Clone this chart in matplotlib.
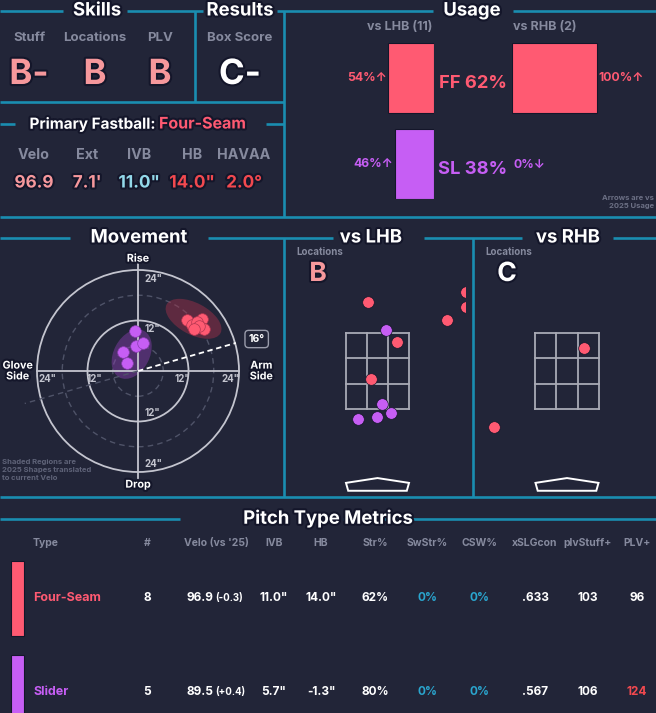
import numpy as np
import matplotlib.pyplot as plt
from matplotlib.patches import Circle, Ellipse, Rectangle, Polygon
import matplotlib.patheffects as pe

# ---------------------
# colori / stile
# ---------------------
W, H = 656, 713
BG = '#222538'
TEAL = '#1a8db0'
GRAY = '#868a9e'
RED = '#ff5a72'
PURP = '#c65ef4'
PINK = '#f6989c'
LBLUE = '#93d9ea'
HOT = '#f2494f'
CYAN = '#2aa6cf'
plt.rcParams['font.family'] = ['Inter', 'DejaVu Sans']

# ---------------------
# dati
# ---------------------
skill_labels = ['Stuff', 'Locations', 'PLV']
skill_grades = ['B-', 'B', 'B']
box_score = 'C-'

fb_name = 'Four-Seam'
fb_labels = ['Velo', 'Ext', 'IVB', 'HB', 'HAVAA']
fb_values = ['96.9', "7.1'", '11.0"', '14.0"', '2.0°']
fb_colors = [PINK, PINK, LBLUE, HOT, HOT]

pitch_codes = ['FF', 'SL']
usage_total = [62, 38]
usage_lhb = [54, 46]
usage_rhb = [100, 0]
arrow_lhb = ['↑', '↑']
arrow_rhb = ['↑', '↓']
n_lhb, n_rhb = 11, 2

# movimento (pollici)
ff_hb = [11.6, 12.9, 15.2, 15.1, 14.0, 15.6, 14.4, 13.2]
ff_ivb = [12.1, 11.0, 12.4, 10.3, 11.7, 10.0, 10.6, 9.9]
sl_hb = [-0.8, -0.5, 1.1, -3.6, -2.5]
sl_ivb = [9.5, 6.0, 6.6, 4.5, 2.0]
arm_angle = 16

# locations (piedi)
lhb_ff_x = [-0.22, 1.98, 1.98, 1.57, 0.43, -0.15]
lhb_ff_z = [4.01, 4.23, 3.88, 3.60, 3.09, 2.25]
lhb_sl_x = [0.18, 0.11, 0.30, -0.02, -0.43]
lhb_sl_z = [3.37, 1.66, 1.47, 1.38, 1.32]
rhb_ff_x = [0.39, -1.63]
rhb_ff_z = [2.94, 1.15]
loc_grade_lhb, loc_grade_rhb = 'B', 'C'

# tabella
col_names = ['#', "Velo (vs '25)", 'IVB', 'HB', 'Str%', 'SwStr%', 'CSW%', 'xSLGcon', 'plvStuff+', 'PLV+']
row_names = ['Four-Seam', 'Slider']
t_count = ['8', '5']
t_velo = ['96.9', '89.5']
t_velo_diff = ['(-0.3)', '(+0.4)']
t_ivb = ['11.0"', '5.7"']
t_hb = ['14.0"', '-1.3"']
t_str = ['62%', '80%']
t_swstr = ['0%', '0%']
t_csw = ['0%', '0%']
t_xslg = ['.633', '.567']
t_stuff = ['103', '106']
t_plv = ['96', '124']

colors = [RED, PURP]

# ---------------------
# figura
# ---------------------
fig = plt.figure(figsize=(W / 100, H / 100), dpi=100, facecolor=BG)
base = fig.add_axes([0, 0, 1, 1])
base.set_xlim(0, W)
base.set_ylim(H, 0)
base.axis('off')

stroke = [pe.withStroke(linewidth=3, foreground='#14162a')]


def rect(x0, y0, x1, y1):
    return [x0 / W, 1 - y1 / H, (x1 - x0) / W, (y1 - y0) / H]


def hline(y, x0, x1):
    base.plot([x0, x1], [y, y], color=TEAL, lw=1.9, solid_capstyle='butt')


def vline(x, y0, y1):
    base.plot([x, x], [y0, y1], color=TEAL, lw=1.9, solid_capstyle='butt')


def title(s, x, y):
    base.text(x, y, s, color='white', fontsize=13.3, fontweight='bold',
              ha='center', va='center', path_effects=stroke)


# cornice
hline(11, 0, 63); hline(11, 127, 203); hline(11, 277, 433); hline(11, 513, W)
vline(195, 11, 102); vline(284, 11, 217)
hline(102, 0, 284)
hline(124, 0, 15); hline(124, 266, 284)
hline(217, 0, W)
hline(238, 0, 70); hline(238, 208, 333); hline(238, 424, 522); hline(238, 613, W)
vline(284, 238, 497); vline(473, 238, 497)
hline(497, 0, W)
hline(519, 0, 180); hline(519, 343, W)

title('Skills', 97, 11)
title('Results', 240, 11)
title('Usage', 472, 11)
title('Movement', 139, 238)
title('vs LHB', 371, 238)
title('vs RHB', 568, 238)
title('Pitch Type Metrics', 328, 519)

# Skills
for lab, g, x in zip(skill_labels, skill_grades, [29, 95, 160]):
    base.text(x, 38, lab, color=GRAY, fontsize=9.5, fontweight='bold', ha='center', va='center')
    base.text(x, 75, g, color=PINK, fontsize=25, fontweight='bold', ha='center', va='center',
              path_effects=stroke)
base.text(240, 38, 'Box Score', color=GRAY, fontsize=9.5, fontweight='bold', ha='center', va='center')
base.text(240, 75, box_score, color='white', fontsize=25, fontweight='bold', ha='center', va='center',
          path_effects=stroke)

# Primary fastball
base.text(156, 124, 'Primary Fastball:', color='white', fontsize=11, fontweight='bold',
          ha='right', va='center', path_effects=stroke)
base.text(159, 124, fb_name, color=RED, fontsize=11.5, fontweight='bold', ha='left', va='center',
          path_effects=stroke)
for lab, v, c, x in zip(fb_labels, fb_values, fb_colors, [34, 87, 139, 192, 244]):
    base.text(x, 155, lab, color=GRAY, fontsize=10.3, fontweight='bold', ha='center', va='center')
    base.text(x, 183, v, color=c, fontsize=12.3, fontweight='bold', ha='center', va='center',
              path_effects=stroke)

# Usage
base.text(400, 27, f'vs LHB ({n_lhb})', color=GRAY, fontsize=9, fontweight='bold', ha='center', va='center')
base.text(545, 27, f'vs RHB ({n_rhb})', color=GRAY, fontsize=9, fontweight='bold', ha='center', va='center')

ax_l = fig.add_axes(rect(340.5, 43, 434, 199))
ax_r = fig.add_axes(rect(512, 43, 605.5, 199))
ypos = np.arange(len(pitch_codes))
for ax, vals, arr, side in [(ax_l, usage_lhb, arrow_lhb, 'l'), (ax_r, usage_rhb, arrow_rhb, 'r')]:
    for i, v in enumerate(vals):
        if v > 0:
            ax.barh(ypos[i], v, height=0.81, color=colors[i], edgecolor='#14162a', lw=0.8)
    ax.set_ylim(1.40, -0.405)
    if side == 'l':
        ax.set_xlim(110, 0)
    else:
        ax.set_xlim(0, 110)
    ax.axis('off')
    for i, (v, a) in enumerate(zip(vals, arr)):
        ax.text(v + 2, i, f'{v}%{a}', color=colors[i], fontsize=8.8, fontweight='bold',
                ha='right' if side == 'l' else 'left', va='center')
for i, (p, u) in enumerate(zip(pitch_codes, usage_total)):
    base.text(473, [83, 170][i], f'{p} {u}%', color=colors[i], fontsize=13.2, fontweight='bold',
              ha='center', va='center')
base.text(654, 198, 'Arrows are vs', color='#6c7085', fontsize=5.5, fontweight='bold', ha='right', va='center')
base.text(654, 206, '2025 Usage', color='#6c7085', fontsize=5.5, fontweight='bold', ha='right', va='center')

# Movement
px_in = 101 / 24
cx, cy = 138, 371
axm = fig.add_axes(rect(0, 245, 284, 496))
axm.set_xlim((0 - cx) / px_in, (284 - cx) / px_in)
axm.set_ylim((cy - 496) / px_in, (cy - 245) / px_in)
axm.axis('off')
for r in [12, 24]:
    axm.add_patch(Circle((0, 0), r, fill=False, ec='#c4c5cf', lw=1.3))
for r in [6, 18]:
    axm.add_patch(Circle((0, 0), r, fill=False, ec='#4f5368', lw=1.0, ls=(0, (4, 3))))
axm.plot([-24, 24], [0, 0], color='#c4c5cf', lw=1.3)
axm.plot([0, 0], [-25.5, 25.5], color='#c4c5cf', lw=1.3)
ang = np.deg2rad(arm_angle)
axm.plot([0, 24.2 * np.cos(ang)], [0, 24.2 * np.sin(ang)], color='white', lw=1.3, ls=(0, (3, 2)))
axm.plot([0, -28 * np.cos(ang)], [0, -28 * np.sin(ang)], color='#4f5368', lw=1.0, ls=(0, (4, 3)))
axm.add_patch(Ellipse((13.2, 12.4), 14.5, 7.5, angle=-28, color='#a8324a', alpha=0.45, lw=0))
axm.add_patch(Ellipse((-1.5, 4.0), 12.5, 8.5, angle=62, color='#8a3fb0', alpha=0.45, lw=0))
axm.scatter(ff_hb, ff_ivb, s=70, color=RED, edgecolor='#b03650', lw=0.5, zorder=3)
axm.scatter(sl_hb, sl_ivb, s=70, color=PURP, edgecolor='#8a3fb0', lw=0.5, zorder=3)
tk = dict(color='#c4c5cf', fontsize=7, fontweight='bold', va='center')
axm.text(1.5, 21.8, '24"', ha='left', **tk)
axm.text(1.5, 10.0, '12"', ha='left', **tk)
axm.text(1.5, -10.0, '12"', ha='left', **tk)
axm.text(1.5, -22.0, '24"', ha='left', **tk)
axm.text(-21.6, -1.9, '24"', ha='center', **tk)
axm.text(-10.3, -1.9, '12"', ha='center', **tk)
axm.text(10.5, -1.9, '12"', ha='center', **tk)
axm.text(21.9, -1.9, '24"', ha='center', **tk)
lb = dict(color='white', fontsize=7.7, fontweight='bold', ha='center', va='center', path_effects=stroke)
axm.text(0, 26.7, 'Rise', **lb)
axm.text(0, -27.0, 'Drop', **lb)
axm.text(-28.6, 0, 'Glove\nSide', linespacing=1.1, **lb)
axm.text(29.3, 0, 'Arm\nSide', linespacing=1.1, **lb)
axm.text(28.2, 7.6, f'{arm_angle}°', color='white', fontsize=7.5, fontweight='bold', ha='center', va='center',
         bbox=dict(boxstyle='round,pad=0.35', fc=BG, ec='#9a9cab', lw=1.0))
base.text(2, 470, 'Shaded Regions are\n2025 Shapes translated\nto current Velo', color='#5f6378',
          fontsize=5.5, fontweight='bold', ha='left', va='center', linespacing=1.35)

# Locations
px_ft_x, px_ft_z = 44.5, 43.8
zb, zt = 1.55, 3.3
zone_px_bot = 409.3


def loc_axes(x0, x1, zc):
    ax = fig.add_axes(rect(x0, 250, x1, 496))
    ax.set_xlim((x0 - zc) / px_ft_x, (x1 - zc) / px_ft_x)
    ax.set_ylim((zone_px_bot - 496) / px_ft_z + zb, (zone_px_bot - 250) / px_ft_z + zb)
    ax.axis('off')
    hw = 17 / 24
    for xx in np.linspace(-hw, hw, 4):
        ax.plot([xx, xx], [zb, zt], color='#a9aab6', lw=1.3)
    for zz in np.linspace(zb, zt, 4):
        ax.plot([-hw, hw], [zz, zz], color='#a9aab6', lw=1.3)
    ax.add_patch(Polygon([(-hw, -0.13), (0, -0.02), (hw, -0.13), (hw - 0.05, -0.31), (-hw + 0.05, -0.31)],
                         closed=True, fill=False, ec='white', lw=1.4))
    return ax


axl = loc_axes(290, 465, 377.5)
axl.scatter(lhb_ff_x, lhb_ff_z, s=70, color=RED, edgecolor='#14162a', lw=0.5, zorder=3)
axl.scatter(lhb_sl_x, lhb_sl_z, s=70, color=PURP, edgecolor='#14162a', lw=0.5, zorder=3)
axr = loc_axes(479.5, 654.5, 567)
axr.scatter(rhb_ff_x, rhb_ff_z, s=70, color=RED, edgecolor='#14162a', lw=0.5, zorder=3)

base.text(296, 252, 'Locations', color=GRAY, fontsize=7, fontweight='bold', ha='left', va='center')
base.text(318, 274, loc_grade_lhb, color=PINK, fontsize=19, fontweight='bold', ha='center', va='center',
          path_effects=stroke)
base.text(485, 252, 'Locations', color=GRAY, fontsize=7, fontweight='bold', ha='left', va='center')
base.text(507, 274, loc_grade_rhb, color='white', fontsize=19, fontweight='bold', ha='center', va='center',
          path_effects=stroke)

# Pitch Type Metrics
col_x = [147, 216, 274, 321, 375, 427, 480, 535, 588, 637]
base.text(33, 543, 'Type', color=GRAY, fontsize=7.5, fontweight='bold', ha='left', va='center')
for name, x in zip(col_names, col_x):
    base.text(x, 543, name, color=GRAY, fontsize=7.5, fontweight='bold', ha='center', va='center')

row_y = [598, 692]
for i in range(len(row_names)):
    y = row_y[i]
    base.add_patch(Rectangle((10.5, y - 37), 13.5, 75, fc=colors[i], ec='#14162a', lw=0.8))
    base.text(33, y, row_names[i], color=colors[i], fontsize=9, fontweight='bold', ha='left', va='center')
    vals = [t_count[i], None, t_ivb[i], t_hb[i], t_str[i], t_swstr[i], t_csw[i],
            t_xslg[i], t_stuff[i], t_plv[i]]
    for j, (v, x) in enumerate(zip(vals, col_x)):
        if v is None:
            base.text(x - 3, y, t_velo[i], color='white', fontsize=8.5, fontweight='bold', ha='right', va='center')
            base.text(x - 1, y, t_velo_diff[i], color='white', fontsize=7, fontweight='bold', ha='left', va='center')
            continue
        c = 'white'
        if j in (5, 6):
            c = CYAN
        if j == 9 and int(v) > 110:
            c = HOT
        base.text(x, y, v, color=c, fontsize=8.5, fontweight='bold', ha='center', va='center')

fig.savefig('out.png', dpi=100, facecolor=BG)
